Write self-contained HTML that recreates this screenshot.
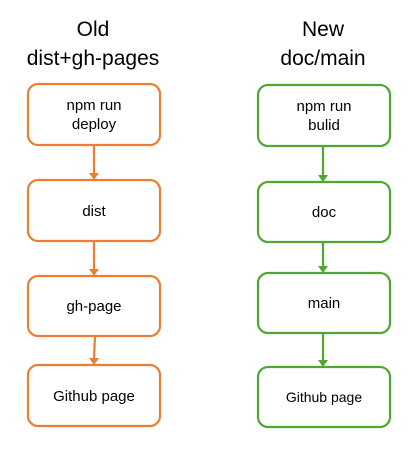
<!DOCTYPE html>
<html><head><style>body{margin:0;background:#fff}</style></head><body>
<svg width="414" height="458" xmlns="http://www.w3.org/2000/svg" font-family="Liberation Sans, sans-serif">
<rect width="414" height="458" fill="#fff"/>
<g font-size="21" text-anchor="middle" fill="#000">
<text x="93" y="36">Old</text>
<text x="93" y="65">dist+gh-pages</text>
<text x="323" y="36">New</text>
<text x="323" y="65">doc/main</text>
</g>
<g fill="none" stroke="#ED7D31" stroke-width="2.2">
<rect x="28" y="84" width="132" height="61" rx="10"/>
<rect x="28" y="180" width="132" height="61" rx="10"/>
<rect x="28" y="276" width="132" height="60" rx="10"/>
<rect x="28" y="365" width="132" height="61" rx="10"/>
<line x1="94" y1="145" x2="94" y2="174"/>
<line x1="94" y1="241" x2="94" y2="270"/>
<line x1="95" y1="336" x2="94" y2="359"/>
</g>
<g fill="#ED7D31">
<polygon points="89,173 99,173 94,180"/>
<polygon points="89,269 99,269 94,276"/>
<polygon points="89,358 99,358 94,365"/>
</g>
<g fill="none" stroke="#4EA72E" stroke-width="2.2">
<rect x="258" y="85" width="132" height="61" rx="10"/>
<rect x="258" y="182" width="132" height="60" rx="10"/>
<rect x="258" y="273" width="132" height="60" rx="10"/>
<rect x="258" y="367" width="132" height="60" rx="10"/>
<line x1="323" y1="146" x2="323" y2="176"/>
<line x1="323" y1="242" x2="323" y2="267"/>
<line x1="323" y1="333" x2="323" y2="361"/>
</g>
<g fill="#4EA72E">
<polygon points="318,175 328,175 323,182"/>
<polygon points="318,266 328,266 323,273"/>
<polygon points="318,360 328,360 323,367"/>
</g>
<g font-size="15" text-anchor="middle" fill="#000">
<text x="94" y="110">npm run</text>
<text x="94" y="129">deploy</text>
<text x="94" y="216">dist</text>
<text x="94" y="311">gh-page</text>
<text x="94" y="401">Github page</text>
<text x="324" y="111">npm run</text>
<text x="324" y="130">bulid</text>
<text x="324" y="217">doc</text>
<text x="324" y="308">main</text>
<text x="324" y="402" font-size="14">Github page</text>
</g>
</svg>
</body></html>
